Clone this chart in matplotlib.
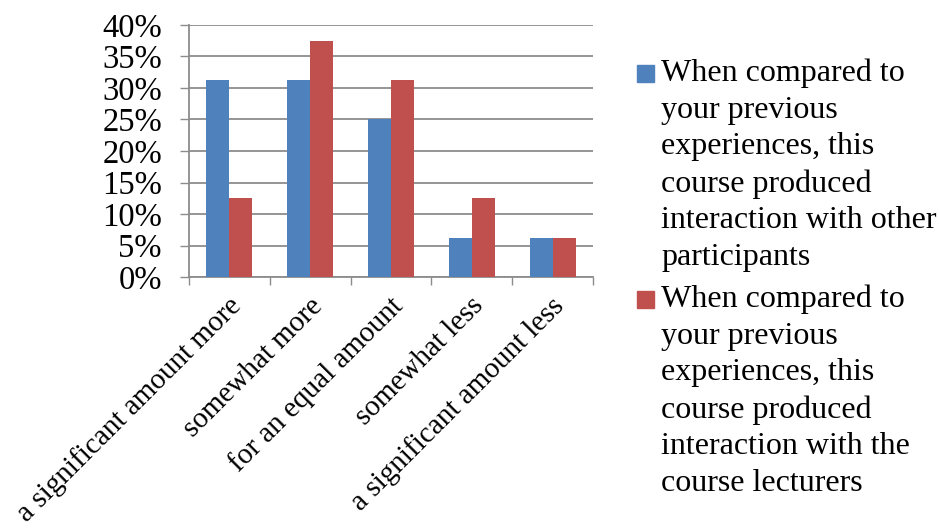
import numpy as np
import matplotlib
matplotlib.use("Agg")
import matplotlib.pyplot as plt
from matplotlib.patches import Rectangle
from matplotlib.transforms import ScaledTranslation

plt.rcParams['font.family'] = ['Liberation Serif', 'DejaVu Serif']

# Data
categories = ["a significant amount more", "somewhat more", "for an equal amount",
              "somewhat less", "a significant amount less"]
participants = [31.25, 31.25, 25.0, 6.25, 6.25]
lecturers = [12.5, 37.5, 31.25, 12.5, 6.25]
series_labels = [
    "When compared to\nyour previous\nexperiences, this\ncourse produced\ninteraction with other\nparticipants",
    "When compared to\nyour previous\nexperiences, this\ncourse produced\ninteraction with the\ncourse lecturers",
]
colors = ["#4F81BD", "#C0504D"]
yticks = [0, 5, 10, 15, 20, 25, 30, 35, 40]

W, H = 939, 529
fig = plt.figure(figsize=(W / 100, H / 100), dpi=100)
ax = fig.add_axes([189 / W, 1 - 277 / H, 404 / W, 252 / H])

x = np.arange(len(categories))
bw = 0.284
ax.bar(x - bw / 2, participants, bw, color=colors[0], zorder=3)
ax.bar(x + bw / 2, lecturers, bw, color=colors[1], zorder=3)

ax.set_xlim(-0.5, len(categories) - 0.5)
ax.set_ylim(0, 40)
ax.set_yticks(yticks)
ax.set_yticklabels([f"{v}%" for v in yticks], fontsize=23.5)
ax.yaxis.grid(True, color="#8c8c8c", linewidth=1.3, zorder=0)
ax.tick_params(axis="y", length=6.5, width=1.0, color="#8c8c8c", pad=13)

ax.set_xticks([])
ax.set_xticks(np.arange(-0.5, len(categories)), minor=True)
ax.tick_params(axis="x", which="minor", length=6, width=1.0, color="#8c8c8c", labelbottom=False)

for s in ["top", "right"]:
    ax.spines[s].set_visible(False)
for s in ["left", "bottom"]:
    ax.spines[s].set_color("#8c8c8c")
    ax.spines[s].set_linewidth(1.3)

# Rotated category labels
trans = ax.get_xaxis_transform() + ScaledTranslation(13 / 100, -30 / 100, fig.dpi_scale_trans)
for i, lab in enumerate(categories):
    ax.text(i, 0, lab, transform=trans, rotation=45, ha="right", va="baseline",
            rotation_mode="anchor", fontsize=21)

# Legend drawn manually
sq_tops = [65, 291]
for lab, c, top in zip(series_labels, colors, sq_tops):
    fig.patches.append(Rectangle((637 / W, 1 - (top + 17) / H), 17 / W, 17 / H,
                                 transform=fig.transFigure, color=c))
    fig.text(661 / W, 1 - (top - 6) / H, lab, fontsize=23, va="top", ha="left",
             linespacing=1.34)

fig.savefig("out.png", dpi=100)
